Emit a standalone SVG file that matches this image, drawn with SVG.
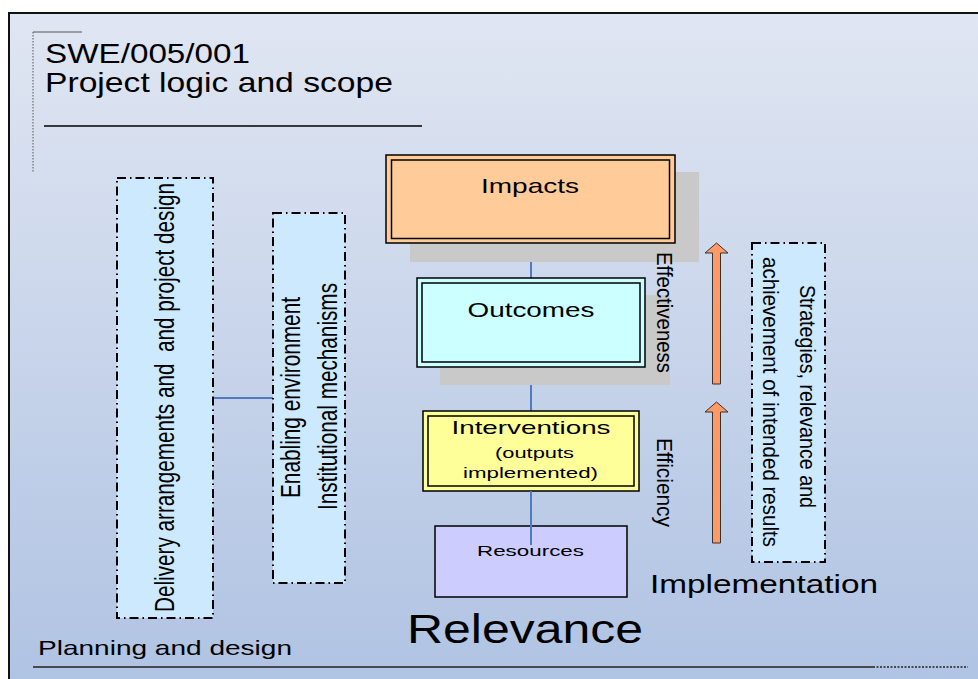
<svg xmlns="http://www.w3.org/2000/svg" width="978" height="679" viewBox="0 0 978 679">
  <defs>
    <linearGradient id="bg" x1="0" y1="0" x2="0" y2="1">
      <stop offset="0" stop-color="#e0e6f2"/>
      <stop offset="1" stop-color="#aec2e2"/>
    </linearGradient>
  </defs>
  <style>
    text { font-family: "Liberation Sans", Arial, sans-serif; fill: #000; }
    .dd { fill: #cce9fe; stroke: #000; stroke-width: 2; stroke-dasharray: 9 4 1.5 4; }
    .outer { stroke: #000; stroke-width: 1.5; }
    .inner { fill: none; stroke: #000; stroke-width: 1.5; }
    .shadow { fill: #c9c9c9; }
    .conn { stroke: #4f7cc0; stroke-width: 2; fill: none; }
    .arrow { fill: #ff9966; stroke: #333; stroke-width: 1; }
  </style>

  <rect id="frame" x="9" y="13" width="985" height="690" fill="url(#bg)" stroke="#111" stroke-width="2"/>

  <g id="title">
    <path d="M33 32 H82" stroke="#555" stroke-width="1" fill="none"/>
    <path d="M33 32 V173" stroke="#555" stroke-width="1" stroke-dasharray="1.5 1.5" fill="none"/>
    <text x="45" y="63" font-size="28" textLength="205" lengthAdjust="spacingAndGlyphs">SWE/005/001</text>
    <text x="45" y="92" font-size="28" textLength="348" lengthAdjust="spacingAndGlyphs">Project logic and scope</text>
    <path d="M44 126 H422" stroke="#000" stroke-width="1.5"/>
  </g>

  <g id="connectors">
    <path class="conn" d="M213 398 H274"/>
    <path class="conn" d="M531 243 V278"/>
    <path class="conn" d="M531 367 V411"/>
  </g>

  <g id="delivery">
    <rect class="dd" x="117" y="178" width="96" height="440"/>
    <text transform="translate(174 397.5) scale(1.35 1) rotate(-90)" font-size="20.7" text-anchor="middle" textLength="429" lengthAdjust="spacingAndGlyphs" xml:space="preserve">Delivery arrangements and  and project design</text>
  </g>

  <g id="enabling">
    <rect class="dd" x="273" y="213" width="72" height="370"/>
    <text transform="translate(300 397.5) scale(1.35 1) rotate(-90)" font-size="20.7" text-anchor="middle" textLength="201" lengthAdjust="spacingAndGlyphs">Enabling environment</text>
    <text transform="translate(337 396.5) scale(1.35 1) rotate(-90)" font-size="20.7" text-anchor="middle" textLength="227" lengthAdjust="spacingAndGlyphs">Institutional mechanisms</text>
  </g>

  <g id="impacts">
    <rect class="shadow" x="410" y="172" width="289" height="90"/>
    <rect class="outer" x="386" y="155" width="289" height="88" fill="#ffcc99"/>
    <rect class="inner" x="391.5" y="160" width="278" height="78.5"/>
    <text x="530" y="193" font-size="21" text-anchor="middle" textLength="98" lengthAdjust="spacingAndGlyphs">Impacts</text>
  </g>

  <g id="outcomes">
    <rect class="shadow" x="440" y="295" width="230" height="90"/>
    <rect class="outer" x="417" y="278" width="228" height="89" fill="#ccffff"/>
    <rect class="inner" x="422" y="283" width="218" height="79"/>
    <text x="531" y="317" font-size="21" text-anchor="middle" textLength="127" lengthAdjust="spacingAndGlyphs">Outcomes</text>
  </g>

  <g id="interventions">
    <rect class="outer" x="423" y="411" width="216" height="80" fill="#ffff99"/>
    <rect class="inner" x="428" y="416" width="206" height="70"/>
    <text x="531" y="434" font-size="19" text-anchor="middle" textLength="159" lengthAdjust="spacingAndGlyphs">Interventions</text>
    <text x="534.5" y="458" font-size="15.5" text-anchor="middle" textLength="79" lengthAdjust="spacingAndGlyphs">(outputs</text>
    <text x="530.5" y="478" font-size="15.5" text-anchor="middle" textLength="135" lengthAdjust="spacingAndGlyphs">implemented)</text>
  </g>

  <g id="resources">
    <rect x="435" y="526" width="192" height="71" fill="#ccccff" stroke="#000" stroke-width="1.5"/>
    <path class="conn" d="M531 491 V545"/>
    <text x="530.5" y="556" font-size="15.5" text-anchor="middle" textLength="107" lengthAdjust="spacingAndGlyphs">Resources</text>
  </g>

  <g id="effectiveness">
    <text transform="translate(657 312.5) scale(1.12 1) rotate(90)" font-size="20" text-anchor="middle" textLength="121" lengthAdjust="spacingAndGlyphs">Effectiveness</text>
  </g>

  <g id="efficiency">
    <text transform="translate(657 482.5) scale(1.12 1) rotate(90)" font-size="20" text-anchor="middle" textLength="89" lengthAdjust="spacingAndGlyphs">Efficiency</text>
  </g>

  <g id="arrow-upper">
    <path class="arrow" d="M716.5 243 L728 253 H720.5 V384 H712.5 V253 H705 Z"/>
  </g>
  <g id="arrow-lower">
    <path class="arrow" d="M716.5 402 L728 412 H720.5 V543 H712.5 V412 H705 Z"/>
  </g>

  <g id="strategies">
    <rect class="dd" x="752" y="243" width="73" height="319"/>
    <text transform="translate(800 396.5) scale(1.1 1) rotate(90)" font-size="20.5" text-anchor="middle" textLength="223" lengthAdjust="spacingAndGlyphs">Strategies, relevance and</text>
    <text transform="translate(763 402) scale(1.1 1) rotate(90)" font-size="20.5" text-anchor="middle" textLength="290" lengthAdjust="spacingAndGlyphs">achievement of intended results</text>
  </g>

  <g id="labels">
    <text x="650" y="593" font-size="26" textLength="228" lengthAdjust="spacingAndGlyphs">Implementation</text>
    <text x="407" y="643" font-size="40" textLength="236" lengthAdjust="spacingAndGlyphs">Relevance</text>
    <text x="38" y="655" font-size="21" textLength="254" lengthAdjust="spacingAndGlyphs">Planning and design</text>
  </g>

  <g id="footer">
    <path d="M33 667 H873" stroke="#222" stroke-width="1.5"/>
    <path d="M873 667 H968" stroke="#222" stroke-width="1.5" stroke-dasharray="2 1.5"/>
  </g>
</svg>
